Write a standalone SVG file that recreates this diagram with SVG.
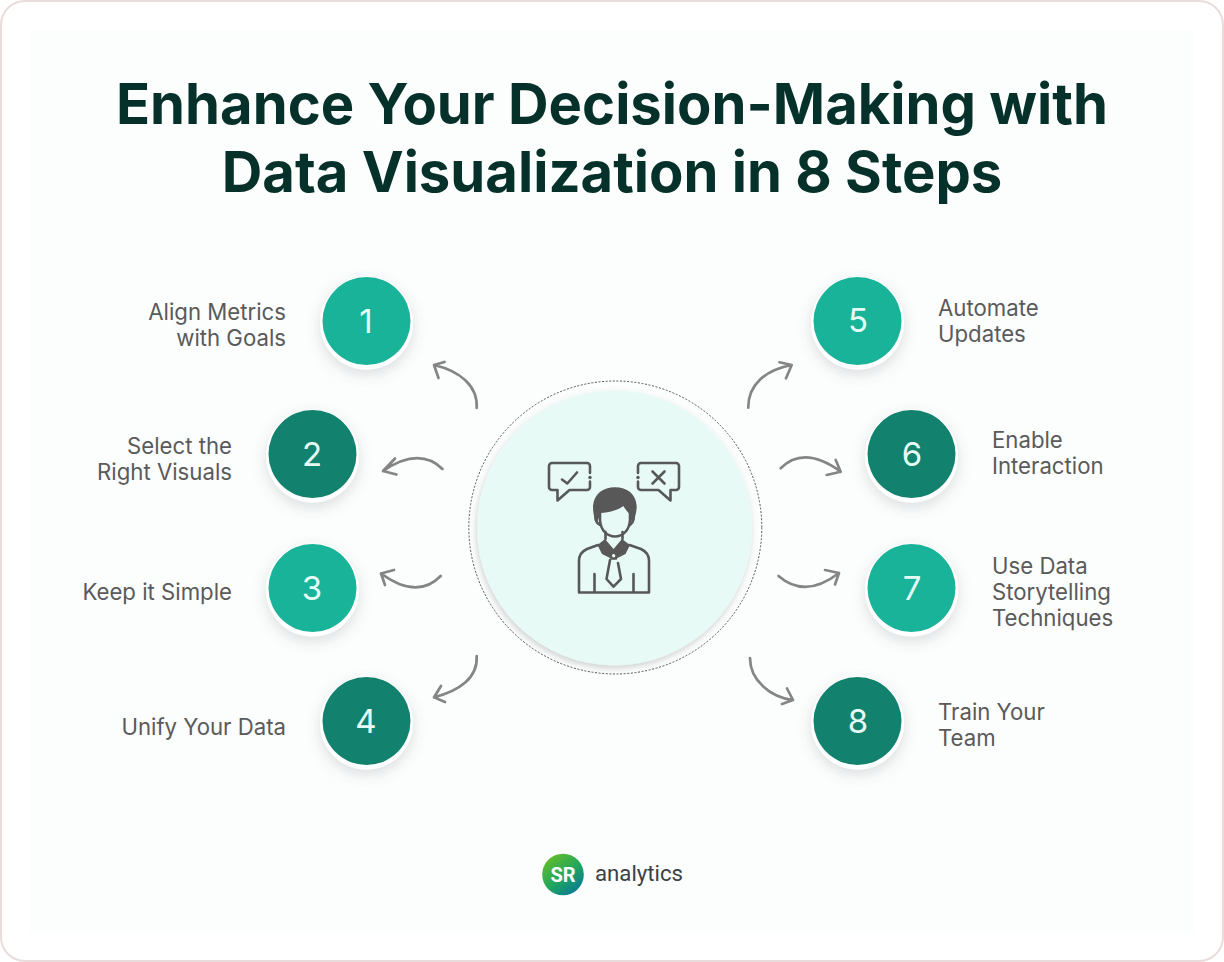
<svg xmlns="http://www.w3.org/2000/svg" width="1224" height="962" viewBox="0 0 1224 962">
<defs>
<linearGradient id="lg" x1="0.15" y1="0.1" x2="0.8" y2="0.95"><stop offset="0" stop-color="#62bb2b"/><stop offset="0.55" stop-color="#1fa65f"/><stop offset="1" stop-color="#0a7b96"/></linearGradient>
<filter id="sh" x="-30%" y="-30%" width="160%" height="170%"><feDropShadow dx="0" dy="5" stdDeviation="7" flood-color="#5a6a66" flood-opacity="0.2"/></filter>
<filter id="shc" x="-10%" y="-10%" width="120%" height="120%"><feDropShadow dx="-1" dy="3" stdDeviation="3" flood-color="#555" flood-opacity="0.26"/></filter>
<style>
text{font-family:Inter,"Liberation Sans",sans-serif}
.t{font-size:56.200px;font-weight:700;fill:#06302a;text-anchor:middle}
.l{font-size:22.200px;fill:#5a5a5a}
.r{text-anchor:end}
.n{font-size:33px;fill:#e6fbf6;text-anchor:middle}
.ring{fill:#fff;filter:url(#sh)}
.a{fill:#19b39a}.b{fill:#12826f}
.c{fill:none;stroke:#858585;stroke-width:2.700;stroke-linecap:round;stroke-linejoin:round}
.i{fill:none;stroke:#585858;stroke-width:2.600;stroke-linecap:round;stroke-linejoin:round}
.f{fill:#585858}
</style>
</defs>
<rect x="1" y="1" width="1222" height="960" rx="24" fill="#fff" stroke="#e8dcdc" stroke-width="2"/>
<rect x="30" y="30" width="1164" height="902" fill="#fcfdfd"/>
<g id="title"><text class="t" x="612" y="124.300">Enhance Your Decision-Making with</text><text class="t" x="612" y="191.700">Data Visualization in 8 Steps</text></g>
<g id="connectors">
<path class="c" d="M476.700 408C478 386 460 371 434 365M444.500 362L434 365L438.500 378"/>
<path class="c" d="M442.500 469C428 455 408 454 383 471M395 458.500L383 471L396.500 474.500"/>
<path class="c" d="M440.700 576C425 592 405 591 381 573.500M394 570L381 573.500L385 585"/>
<path class="c" d="M476.700 656C478 678 459 691 434 697.300M441 686L434 697.300L445 702"/>
<path class="c" d="M748.300 407.700C748 385 765 370 791.700 365M779.500 362.300L791.700 365L786 378.300"/>
<path class="c" d="M780.700 468.300C795 454 815 453 840.700 471.700M835.700 460L840.700 471.700L826.700 475"/>
<path class="c" d="M778.500 576C797 592 817 590 839 573M825 570L839 573L835 584.500"/>
<path class="c" d="M750 658C750 680 770 697 793 700M787 688.500L793 700L782 704"/>
</g>
<g id="center">
<circle cx="615.300" cy="527.500" r="146.500" fill="none" stroke="#555" stroke-width="1" stroke-dasharray="2 1.600"/>
<circle cx="614.500" cy="528" r="137.500" fill="#e7faf6" filter="url(#shc)"/>
<g id="icon">
<path class="i" d="M590 473V466a3 3 0 0 0-3-3H552a3 3 0 0 0-3 3V487a3 3 0 0 0 3 3H557.500V500.500L569.500 490H587a3 3 0 0 0 3-3V481.500"/>
<circle class="f" cx="590" cy="477.500" r="1.700"/>
<path class="i" d="M562 479.500L567.300 483.500L577 472.500"/>
<path class="i" d="M638 473V466a3 3 0 0 1 3-3H676a3 3 0 0 1 3 3V487a3 3 0 0 1-3 3H670.500V500.500L658.500 490H641a3 3 0 0 1-3-3V481.500"/>
<circle class="f" cx="638" cy="477.500" r="1.700"/>
<path class="i" d="M652.500 471.500L664.500 483.500M664.500 471.500L652.500 483.500"/>
<path class="f" d="M597 523C594 519 593 512 593 506C594 494 603 487.300 615 487.300C627 487.300 636 494 636.700 506C636.700 512 635 519 632 523L629.500 514C627 511 625 509 623.300 506C620 509 613 512 600.500 513Z"/>
<path class="i" d="M600 512V520C600.500 531 608 536.500 615 536.500C622 536.500 629.500 531 630 520V510M597.500 513C594 516 595 522 600 525M632 513C635 516 634 522 630 525M605.500 532V539M622.500 532V539"/>
<path class="f" d="M597.500 545L605 539L613.500 549L622 539L630 545L625.500 554L617.500 558L613.500 552L610 558L602 554Z"/>
<path class="i" d="M598 545L587 549C581.500 551.500 579 555 579 561V592.500H649V561C649 555 646.500 551.500 641 549L629.500 545M594.500 592V574M633.500 592V574"/>
<path class="i" d="M610 560L606.500 579L613.500 586.700L621 579L618 563"/>
<path class="i" d="M610.500 555L613.500 551.500L617 555L615.800 558.500H611.500Z"/>
</g>
</g>
<g id="step1"><circle class="ring" cx="366.500" cy="323" r="46.500"/><circle class="a" cx="366.500" cy="321" r="44"/><text class="n" x="366" y="333">1</text><text class="l r" x="286" y="319.700">Align Metrics</text><text class="l r" x="286" y="345.700">with Goals</text></g>
<g id="step2"><circle class="ring" cx="312.500" cy="456" r="46.500"/><circle class="b" cx="312.500" cy="454" r="44"/><text class="n" x="312" y="466">2</text><text class="l r" x="232" y="453.700">Select the</text><text class="l r" x="232" y="479.700">Right Visuals</text></g>
<g id="step3"><circle class="ring" cx="312.500" cy="590" r="46.500"/><circle class="a" cx="312.500" cy="588" r="44"/><text class="n" x="312" y="600">3</text><text class="l r" x="232" y="599.700">Keep it Simple</text></g>
<g id="step4"><circle class="ring" cx="366.500" cy="723" r="46.500"/><circle class="b" cx="366.500" cy="721" r="44"/><text class="n" x="366" y="733">4</text><text class="l r" x="286" y="734.700">Unify Your Data</text></g>
<g id="step5"><circle class="ring" cx="857.500" cy="323" r="46.500"/><circle class="a" cx="857.500" cy="321" r="44"/><text class="n" x="858" y="332">5</text><text class="l" x="938" y="315.700">Automate</text><text class="l" x="938" y="341.700">Updates</text></g>
<g id="step6"><circle class="ring" cx="911.500" cy="456" r="46.500"/><circle class="b" cx="911.500" cy="454" r="44"/><text class="n" x="912" y="465.500">6</text><text class="l" x="992" y="447.700">Enable</text><text class="l" x="992" y="473.700">Interaction</text></g>
<g id="step7"><circle class="ring" cx="911.500" cy="590" r="46.500"/><circle class="a" cx="911.500" cy="588" r="44"/><text class="n" x="912" y="600">7</text><text class="l" x="992" y="573.700">Use Data</text><text class="l" x="992" y="599.700">Storytelling</text><text class="l" x="992" y="625.700">Techniques</text></g>
<g id="step8"><circle class="ring" cx="857.500" cy="723" r="46.500"/><circle class="b" cx="857.500" cy="721" r="44"/><text class="n" x="858" y="733">8</text><text class="l" x="938" y="719.700">Train Your</text><text class="l" x="938" y="745.700">Team</text></g>
<g id="logo"><circle cx="563" cy="874.500" r="20.800" fill="url(#lg)"/><text x="563" y="881.700" font-size="20" font-weight="700" fill="#fff" text-anchor="middle" style="font-family:Roboto,sans-serif">SR</text><text x="595" y="881" font-size="22.200" fill="#3c4144" style="font-family:Roboto,sans-serif">analytics</text></g>
</svg>
